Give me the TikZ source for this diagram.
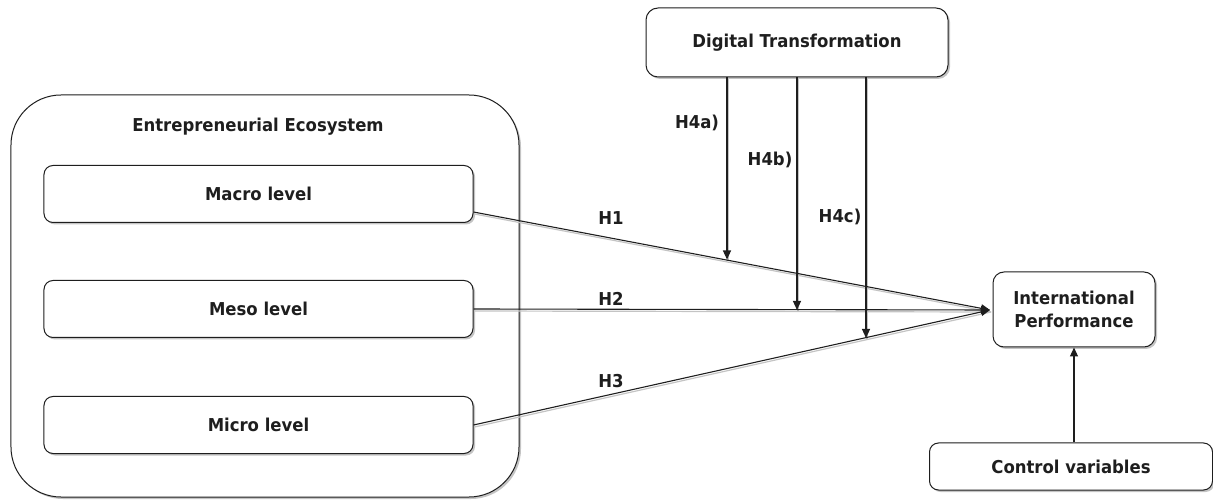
\documentclass[tikz,border=0pt]{standalone}
\usepackage{fontspec}
\setmainfont{DejaVu Sans}[FakeStretch=0.93]
\usetikzlibrary{arrows.meta,shadows}
\definecolor{ink}{HTML}{1E1E1E}
\definecolor{shade}{HTML}{C4C4C4}
\begin{document}
\begin{tikzpicture}[x=1bp,y=-1bp,
  lbl/.style={font=\bfseries\fontsize{17.8}{23}\selectfont, text=ink},
  box/.style={lbl, draw=ink, line width=1bp, fill=white, rounded corners=9bp,
    inner sep=0pt, align=center,
    drop shadow={shadow xshift=2bp, shadow yshift=-2bp, fill=shade, opacity=1}},
  conn/.style={draw=ink, line width=1.1bp},
  arr/.style={conn, -{Triangle[length=9bp,width=8bp]}},
  shl/.style={draw=shade, line width=1.2bp, transform canvas={xshift=1bp,yshift=-2bp}}
]
\useasboundingbox (0,0) rectangle (1213,504);

% Big ecosystem container
\node[box, rounded corners=50bp, minimum width=508bp, minimum height=402bp] (eco) at (265,296) {};
\node[lbl] (ecot) at (258,127) {Entrepreneurial Ecosystem};

\node[box, minimum width=429bp, minimum height=57bp] (macro) at (258.5,194) {Macro level};
\node[box, minimum width=429bp, minimum height=57bp] (meso) at (258.5,309) {Meso level};
\node[box, minimum width=429bp, minimum height=57bp] (micro) at (258.5,425) {Micro level};

\node[box, rounded corners=12bp, minimum width=302bp, minimum height=69bp] (dt) at (797,42.5) {Digital Transformation};
\node[box, rounded corners=11bp, minimum width=162bp, minimum height=75bp] (ip) at (1074,309.5) {International\\Performance};
\node[box, rounded corners=9bp, minimum width=283bp, minimum height=47bp] (cv) at (1071,466.5) {Control variables};

\coordinate (tip) at (990,310);
\coordinate (m1) at ([yshift=-18bp]macro.east);
\coordinate (a1) at (727,259.5);
\coordinate (a2) at (797,310);
\coordinate (a3) at (866,338);
\coordinate (d1) at (727,77);
\coordinate (d2) at (797,77);
\coordinate (d3) at (866,77);

% shadows of connectors
\draw[shl] (m1) -- (tip);
\draw[shl] (meso.east) -- (tip);
\draw[shl] (micro.east) -- (tip);
\draw[shl] (d1) -- (a1);
\draw[shl] (d2) -- (a2);
\draw[shl] (d3) -- (a3);

% connectors
\draw[arr] (m1) -- (tip);
\draw[arr] (meso.east) -- (tip);
\draw[arr] (micro.east) -- (tip);
\draw[arr] (d1) -- (a1);
\draw[arr] (d2) -- (a2);
\draw[arr] (d3) -- (a3);
\draw[arr] (cv.north -| ip.south) -- (ip.south);

% labels
\node[lbl] (h1) at (611,218) {H1};
\node[lbl] (h2) at (611,299) {H2};
\node[lbl] (h3) at (611,381) {H3};
\node[lbl] (h4a) at (697,123) {H4a)};
\node[lbl] (h4b) at (770,160) {H4b)};
\node[lbl] (h4c) at (840,217) {H4c)};
\end{tikzpicture}
\end{document}
